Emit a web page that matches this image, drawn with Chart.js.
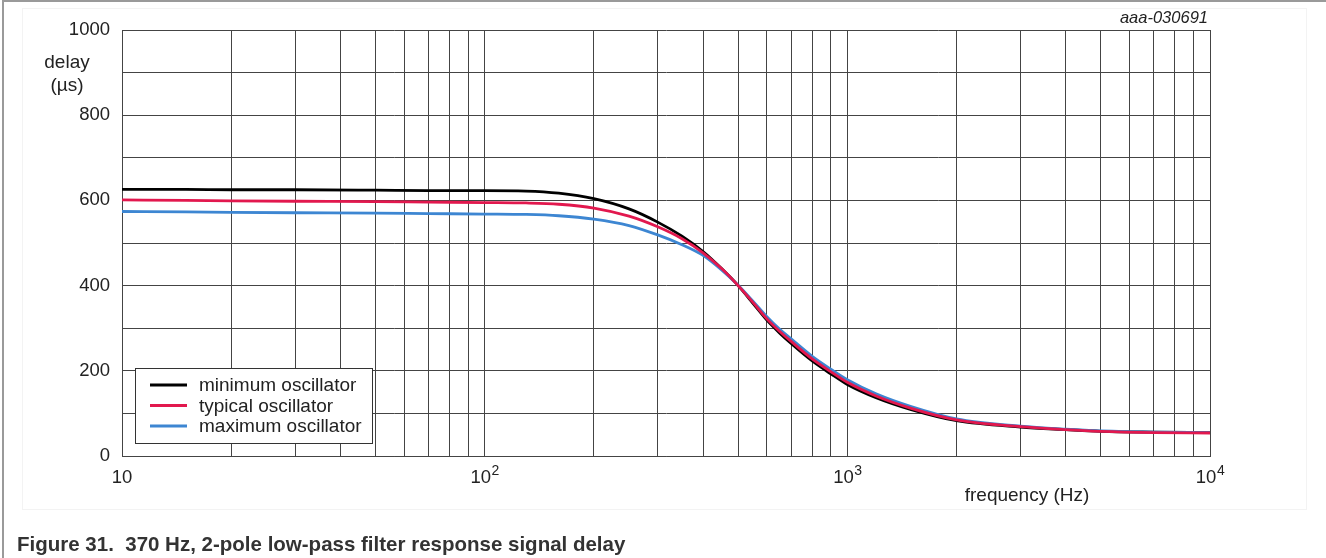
<!DOCTYPE html>
<html>
<head>
<meta charset="utf-8">
<script src="https://cdn.jsdelivr.net/npm/chart.js@4.4.1/dist/chart.umd.min.js"></script>
<style>
  html, body { margin: 0; padding: 0; background: #fff; }
  #page { position: relative; width: 1326px; height: 558px; overflow: hidden; }
  #frame { position: absolute; left: 2px; top: 0; width: 1340px; height: 600px;
           border-left: 2px solid #9a9a9a; border-top: 2px solid #9a9a9a; }
  #inner { position: absolute; left: 22px; top: 8px; width: 1283px; height: 500px;
           border: 1px solid #f3f3f3; }
  #myChart { position: absolute; left: 0; top: 0; }
</style>
</head>
<body>
<div id="page">
  <div id="frame"></div>
  <div id="inner"></div>
  <canvas id="myChart" width="1326" height="558"></canvas>
</div>
<script>
// frequency points (Hz)
const freqHz = [10, 15, 20, 30, 50, 70, 100, 130, 160, 200, 250, 300, 350, 400, 450, 500,
                550, 600, 650, 700, 800, 900, 1000, 1200, 1500, 2000, 3000, 4000, 5000, 7000, 10000];

// delay (us)
const delayMin = [626, 626, 625, 625, 624, 623, 623, 622, 617, 604, 580, 549, 516, 480, 440, 400,
                  358, 319, 289, 264, 223, 193, 168, 137, 109, 83, 68, 62, 58, 56, 55];
const delayTyp = [601, 600, 599, 598, 597, 596, 595, 594, 591, 582, 563, 538, 510, 477, 440, 400,
                  360, 322, 293, 269, 228, 198, 173, 141, 112, 85, 69, 62, 58, 55, 54];
const delayMax = [574, 573, 572, 571, 570, 569, 568, 567, 564, 556, 541, 519, 496, 471, 437, 401,
                  363, 327, 298, 275, 234, 204, 179, 146, 116, 87, 70, 63, 59, 56, 55];

const seriesNames = ['minimum oscillator', 'typical oscillator', 'maximum oscillator'];
const seriesColors = ['#000000', '#e2184e', '#3d86d2'];

// axes
const xDecades = [10, 100, 1000];
const xMultipliers = [1, 2, 3, 4, 5, 6, 7, 8, 9];
const xLabelValues = [10, 100, 1000, 10000];
const xLabelBase = ['10', '10', '10', '10'];
const xLabelExp = ['', '2', '3', '4'];
const yMin = 0, yMax = 1000, yGridStep = 100, yLabelStep = 200;

const xGridValues = [];
xDecades.forEach(d => xMultipliers.forEach(m => xGridValues.push(d * m)));
xGridValues.push(10000);

function toPoints(ys) {
    return freqHz.map((f, i) => ({x: f, y: ys[i]}));
}

const FONT = '"Liberation Sans", Arial, sans-serif';
const gridColor = '#444444';

const textPlugin = {
    id: 'texts',
    afterDraw(chart) {
        const c = chart.ctx;
        const xs = chart.scales.x;
        c.save();
        c.fillStyle = '#222';

        // x tick labels with superscript exponents
        for (let i = 0; i < xLabelValues.length; i++) {
            const px = xs.getPixelForValue(xLabelValues[i]);
            c.font = '18.5px ' + FONT;
            const wb = c.measureText(xLabelBase[i]).width;
            c.font = '14px ' + FONT;
            const we = xLabelExp[i] ? c.measureText(xLabelExp[i]).width : 0;
            const left = px - (wb + we) / 2;
            c.textAlign = 'left';
            c.textBaseline = 'alphabetic';
            c.font = '18.5px ' + FONT;
            c.fillText(xLabelBase[i], left, 483);
            if (xLabelExp[i]) {
                c.font = '14px ' + FONT;
                c.fillText(xLabelExp[i], left + wb + 0.5, 475);
            }
        }

        // axis titles
        c.font = '19px ' + FONT;
        c.textAlign = 'center';
        c.textBaseline = 'middle';
        c.fillText('delay', 67, 63);
        c.fillText('(\u00b5s)', 67, 86);
        c.fillText('frequency (Hz)', 1027, 496);

        c.font = 'italic 16.5px ' + FONT;
        c.textAlign = 'right';
        c.textBaseline = 'alphabetic';
        c.fillText('aaa-030691', 1208, 23);

        // legend box
        const bx = 135.5, by = 368.5, bw = 237, bh = 75;
        c.fillStyle = '#fff';
        c.fillRect(bx, by, bw, bh);
        c.strokeStyle = '#333';
        c.lineWidth = 1;
        c.strokeRect(bx, by, bw, bh);
        const rows = [385, 405.5, 426];
        chart.data.datasets.forEach((ds, i) => {
            c.strokeStyle = ds.borderColor;
            c.lineWidth = 3;
            c.beginPath();
            c.moveTo(150, rows[i]);
            c.lineTo(187, rows[i]);
            c.stroke();
            c.fillStyle = '#222';
            c.font = '19px ' + FONT;
            c.textAlign = 'left';
            c.textBaseline = 'middle';
            c.fillText(ds.label, 199, rows[i] + 1);
        });

        // figure caption
        c.fillStyle = '#333';
        c.font = 'bold 20.5px ' + FONT;
        c.textAlign = 'left';
        c.textBaseline = 'alphabetic';
        c.fillText('Figure 31.  370 Hz, 2-pole low-pass filter response signal delay', 17, 551);
        c.restore();
    }
};

const ctx = document.getElementById('myChart').getContext('2d');
const myChart = new Chart(ctx, {
    type: 'line',
    data: {
        datasets: [
            {label: seriesNames[0], data: toPoints(delayMin), borderColor: seriesColors[0], order: 2},
            {label: seriesNames[1], data: toPoints(delayTyp), borderColor: seriesColors[1], order: 0},
            {label: seriesNames[2], data: toPoints(delayMax), borderColor: seriesColors[2], order: 1}
        ].map(d => Object.assign(d, {
            borderWidth: 2.8,
            pointRadius: 0,
            fill: false,
            cubicInterpolationMode: 'monotone',
            backgroundColor: d.borderColor
        }))
    },
    options: {
        responsive: false,
        animation: false,
        devicePixelRatio: 1,
        layout: {padding: {left: 0, top: 30, right: 116, bottom: 0}},
        plugins: {legend: {display: false}, tooltip: {enabled: false}},
        scales: {
            x: {
                type: 'logarithmic',
                min: 10,
                max: 10000,
                afterBuildTicks(scale) {
                    scale.ticks = xGridValues.map(v => ({value: v}));
                },
                afterFit(scale) { scale.height = 102; },
                ticks: {display: false, autoSkip: false},
                grid: {color: gridColor, lineWidth: 1, drawTicks: false},
                border: {color: gridColor, width: 1}
            },
            y: {
                min: yMin,
                max: yMax,
                afterFit(scale) { scale.width = 122; },
                ticks: {
                    stepSize: yGridStep,
                    autoSkip: false,
                    padding: 12,
                    color: '#222',
                    font: {family: FONT, size: 18.5},
                    callback: v => (v % yLabelStep === 0 ? String(v) : '')
                },
                grid: {color: gridColor, lineWidth: 1, drawTicks: false},
                border: {color: gridColor, width: 1}
            }
        }
    },
    plugins: [textPlugin]
});
</script>
</body>
</html>
